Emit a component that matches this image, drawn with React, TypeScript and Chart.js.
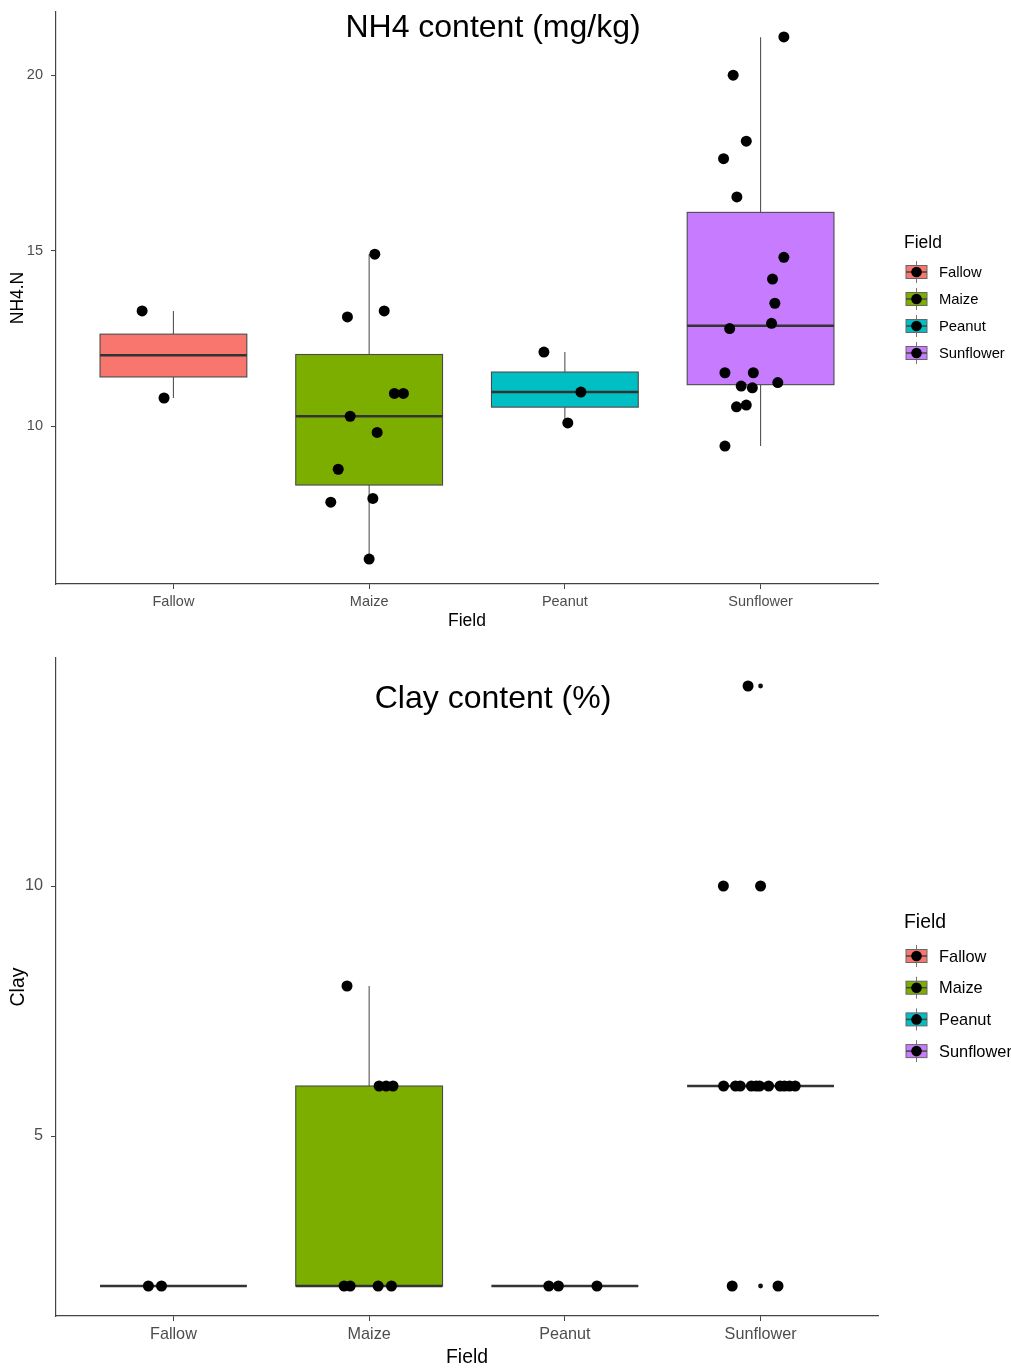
import React, { useEffect, useRef } from "react";
import { Chart, registerables } from "chart.js";

Chart.register(...registerables);
Chart.defaults.font.family = "'Liberation Sans', Arial, sans-serif";

// ---------- shared ----------
const categories = ["Fallow", "Maize", "Peanut", "Sunflower"];
const fillColors = ["#F8766D", "#7CAE00", "#00BFC4", "#C77CFF"];
const categoryPositions = [1, 2, 3, 4];
const legendTitle = "Field";

// ---------- NH4 chart ----------
const nh4Title = "NH4 content (mg/kg)";
const nh4YLabel = "NH4.N";
const nh4Ticks = [10, 15, 20];
const nh4Lower = [10.8, 6.21, 10.09, 9.43];
const nh4Q1 = [11.4, 8.32, 10.54, 11.18];
const nh4Median = [12.02, 10.28, 10.97, 12.86];
const nh4Q3 = [12.62, 12.04, 11.54, 16.09];
const nh4Upper = [13.28, 14.9, 12.11, 21.08];
const nh4Outliers: number[][] = [[], [], [], []];

const nh4Fallow = [13.28, 10.8];
const nh4FallowJitter = [-0.16, -0.048];
const nh4Maize = [14.9, 13.11, 13.28, 10.93, 10.93, 10.28, 9.82, 8.77, 7.83, 7.94, 6.21];
const nh4MaizeJitter = [0.029, -0.111, 0.077, 0.129, 0.175, -0.097, 0.041, -0.158, -0.196, 0.019, 0.0];
const nh4Peanut = [12.11, 10.97, 10.09];
const nh4PeanutJitter = [-0.107, 0.082, 0.015];
const nh4Sunflower = [21.09, 20.0, 18.12, 17.62, 16.53, 14.81, 14.19, 13.5, 12.93, 12.78, 11.52, 11.52, 11.24, 11.14, 11.09, 10.55, 10.6, 9.43];
const nh4SunflowerJitter = [0.119, -0.14, -0.073, -0.189, -0.121, 0.119, 0.061, 0.073, 0.056, -0.158, -0.182, -0.037, 0.088, -0.099, -0.042, -0.123, -0.073, -0.182];

// ---------- Clay chart ----------
const clayTitle = "Clay content (%)";
const clayYLabel = "Clay";
const clayTicks = [5, 10];
const clayLower = [2, 2, 2, 6];
const clayQ1 = [2, 2, 2, 6];
const clayMedian = [2, 2, 2, 6];
const clayQ3 = [2, 6, 2, 6];
const clayUpper = [2, 8, 2, 6];
const clayOutliers: number[][] = [[], [], [], [14, 10, 2]];

const clayFallow = [2, 2];
const clayFallowJitter = [-0.128, -0.061];
const clayMaize = [8, 6, 6, 6, 2, 2, 2, 2];
const clayMaizeJitter = [-0.113, 0.051, 0.087, 0.122, -0.128, -0.097, 0.046, 0.114];
const clayPeanut = [2, 2, 2];
const clayPeanutJitter = [-0.082, -0.033, 0.164];
const claySunflower = [14, 10, 10, 6, 6, 6, 6, 6, 6, 6, 6, 6, 6, 6, 2, 2];
const claySunflowerJitter = [-0.064, -0.19, 0.0, -0.189, -0.128, -0.104, -0.047, -0.022, -0.005, 0.041, 0.1, 0.122, 0.148, 0.177, -0.145, 0.089];

// ---------- helpers ----------
const BOX_HALF = 0.375;

type Stats = { lower: number[]; q1: number[]; median: number[]; q3: number[]; upper: number[] };

function jitterPoints(values: number[][], offsets: number[][]) {
  const pts: { x: number; y: number }[] = [];
  values.forEach((vals, i) => {
    vals.forEach((v, j) => pts.push({ x: categoryPositions[i] + offsets[i][j], y: v }));
  });
  return pts;
}

function outlierPoints(outs: number[][]) {
  const pts: { x: number; y: number }[] = [];
  outs.forEach((vals, i) => vals.forEach((v) => pts.push({ x: categoryPositions[i], y: v })));
  return pts;
}

function makeBoxPlugin(stats: Stats) {
  return {
    id: "boxes",
    beforeDatasetsDraw(chart: any) {
      const { ctx } = chart;
      const x = chart.scales.x;
      const y = chart.scales.y;
      ctx.save();
      stats.q1.forEach((_, i) => {
        const c = categoryPositions[i];
        const xl = x.getPixelForValue(c - BOX_HALF);
        const xr = x.getPixelForValue(c + BOX_HALF);
        const xc = x.getPixelForValue(c);
        const yLo = y.getPixelForValue(stats.lower[i]);
        const yQ1 = y.getPixelForValue(stats.q1[i]);
        const yMed = y.getPixelForValue(stats.median[i]);
        const yQ3 = y.getPixelForValue(stats.q3[i]);
        const yHi = y.getPixelForValue(stats.upper[i]);
        // whiskers
        ctx.strokeStyle = "#555555";
        ctx.lineWidth = 1.1;
        ctx.beginPath();
        ctx.moveTo(xc, yHi);
        ctx.lineTo(xc, yQ3);
        ctx.moveTo(xc, yQ1);
        ctx.lineTo(xc, yLo);
        ctx.stroke();
        // box
        ctx.fillStyle = fillColors[i];
        ctx.fillRect(xl, yQ3, xr - xl, yQ1 - yQ3);
        ctx.strokeStyle = "#4a4a4a";
        ctx.lineWidth = 1.1;
        ctx.strokeRect(xl, yQ3, xr - xl, yQ1 - yQ3);
        // median
        ctx.strokeStyle = "#333333";
        ctx.lineWidth = 2.6;
        ctx.beginPath();
        ctx.moveTo(xl, yMed);
        ctx.lineTo(xr, yMed);
        ctx.stroke();
      });
      ctx.restore();
    },
  };
}

function makeTitlePlugin(text: string, xVal: number, yVal: number, size: number) {
  return {
    id: "annotTitle",
    afterDatasetsDraw(chart: any) {
      const { ctx } = chart;
      const px = chart.scales.x.getPixelForValue(xVal);
      const py = chart.scales.y.getPixelForValue(yVal);
      ctx.save();
      ctx.font = `${size}px 'Liberation Sans', Arial, sans-serif`;
      ctx.fillStyle = "#000000";
      ctx.textAlign = "center";
      ctx.textBaseline = "middle";
      ctx.fillText(text, px, py);
      ctx.restore();
    },
  };
}

function makeLegendPlugin(opts: { titleY: number; firstRow: number; step: number; titleSize: number; textSize: number }) {
  return {
    id: "boxLegend",
    afterDraw(chart: any) {
      const { ctx, chartArea } = chart;
      const left = chartArea.right + 26;
      ctx.save();
      ctx.fillStyle = "#000000";
      ctx.textAlign = "left";
      ctx.textBaseline = "middle";
      ctx.font = `${opts.titleSize}px 'Liberation Sans', Arial, sans-serif`;
      ctx.fillText(legendTitle, left, opts.titleY);
      categories.forEach((name, i) => {
        const cy = opts.firstRow + i * opts.step;
        const kx = left + 2;
        const kw = 21;
        const kh = 13;
        const kc = kx + kw / 2;
        // whisker
        ctx.strokeStyle = "#777777";
        ctx.lineWidth = 1;
        ctx.beginPath();
        ctx.moveTo(kc, cy - 11);
        ctx.lineTo(kc, cy + 11);
        ctx.stroke();
        // box
        ctx.fillStyle = fillColors[i];
        ctx.fillRect(kx, cy - kh / 2, kw, kh);
        ctx.strokeStyle = "#666666";
        ctx.strokeRect(kx, cy - kh / 2, kw, kh);
        ctx.strokeStyle = "#444444";
        ctx.lineWidth = 1.5;
        ctx.beginPath();
        ctx.moveTo(kx, cy);
        ctx.lineTo(kx + kw, cy);
        ctx.stroke();
        // dot
        ctx.fillStyle = "#000000";
        ctx.beginPath();
        ctx.arc(kc, cy, 5.3, 0, Math.PI * 2);
        ctx.fill();
        // label
        ctx.font = `${opts.textSize}px 'Liberation Sans', Arial, sans-serif`;
        ctx.fillText(name, left + 35, cy + 1);
      });
      ctx.restore();
    },
  };
}

type PanelCfg = {
  width: number;
  height: number;
  padTop: number;
  padRight: number;
  yWidth: number;
  xHeight: number;
  yMin: number;
  yMax: number;
  yTicks: number[];
  yLabel: string;
  stats: Stats;
  values: number[][];
  offsets: number[][];
  outliers: number[][];
  title: string;
  titleX: number;
  titleY: number;
  tickSize: number;
  axisTitleSize: number;
  yTitlePad: number;
  xTitlePad: number;
  legend: { titleY: number; firstRow: number; step: number; titleSize: number; textSize: number };
};

function buildConfig(p: PanelCfg): any {
  return {
    type: "scatter",
    data: {
      datasets: [
        {
          label: "points",
          data: jitterPoints(p.values, p.offsets),
          pointRadius: 5.5,
          pointHoverRadius: 5.5,
          backgroundColor: "#000000",
          borderWidth: 0,
          order: 1,
        },
        {
          label: "outliers",
          data: outlierPoints(p.outliers),
          pointRadius: 2.4,
          pointHoverRadius: 2.4,
          backgroundColor: "#111111",
          borderWidth: 0,
          order: 2,
        },
      ],
    },
    options: {
      responsive: false,
      animation: false,
      devicePixelRatio: 1,
      events: [],
      layout: { padding: { top: p.padTop, right: p.padRight, left: 0, bottom: 0 } },
      plugins: { legend: { display: false }, tooltip: { enabled: false } },
      scales: {
        x: {
          type: "linear",
          position: "bottom",
          min: 0.4,
          max: 4.6,
          afterBuildTicks: (s: any) => {
            s.ticks = categoryPositions.map((v) => ({ value: v }));
          },
          afterFit: (s: any) => {
            s.height = p.xHeight;
            s.paddingLeft = 0;
            s.paddingRight = 0;
          },
          ticks: {
            autoSkip: false,
            maxRotation: 0,
            padding: 4,
            color: "#4d4d4d",
            font: { size: p.tickSize },
            callback: (v: any) => categories[Math.round(Number(v)) - 1] ?? "",
          },
          grid: { display: true, drawOnChartArea: false, drawTicks: true, tickLength: 5, color: "#444444", lineWidth: 1 },
          border: { display: true, color: "#444444", width: 1.2 },
          title: {
            display: true,
            text: "Field",
            color: "#000000",
            font: { size: p.axisTitleSize },
            padding: { top: 0, bottom: p.xTitlePad },
          },
        },
        y: {
          type: "linear",
          position: "left",
          min: p.yMin,
          max: p.yMax,
          afterBuildTicks: (s: any) => {
            s.ticks = p.yTicks.map((v) => ({ value: v }));
          },
          afterFit: (s: any) => {
            s.width = p.yWidth;
            s.paddingTop = 0;
            s.paddingBottom = 0;
          },
          ticks: {
            padding: 8,
            color: "#4d4d4d",
            font: { size: p.tickSize },
            callback: (v: any) => String(v),
          },
          grid: { display: true, drawOnChartArea: false, drawTicks: true, tickLength: 5, color: "#444444", lineWidth: 1 },
          border: { display: true, color: "#444444", width: 1.2 },
          title: {
            display: true,
            text: p.yLabel,
            color: "#000000",
            font: { size: p.axisTitleSize },
            padding: { top: p.yTitlePad, bottom: 0 },
          },
        },
      },
    },
    plugins: [
      makeBoxPlugin(p.stats),
      makeTitlePlugin(p.title, p.titleX, p.titleY, 32),
      makeLegendPlugin(p.legend),
    ],
  };
}

const nh4Panel: PanelCfg = {
  width: 1011,
  height: 640,
  padTop: 12,
  padRight: 133,
  yWidth: 56,
  xHeight: 56,
  yMin: 5.5,
  yMax: 21.8,
  yTicks: nh4Ticks,
  yLabel: nh4YLabel,
  stats: { lower: nh4Lower, q1: nh4Q1, median: nh4Median, q3: nh4Q3, upper: nh4Upper },
  values: [nh4Fallow, nh4Maize, nh4Peanut, nh4Sunflower],
  offsets: [nh4FallowJitter, nh4MaizeJitter, nh4PeanutJitter, nh4SunflowerJitter],
  outliers: nh4Outliers,
  title: nh4Title,
  titleX: 2.633,
  titleY: 21.35,
  tickSize: 14.5,
  axisTitleSize: 17.5,
  yTitlePad: 7.8,
  xTitlePad: 8,
  legend: { titleY: 243, firstRow: 272, step: 27, titleSize: 17.5, textSize: 14.8 },
};

const clayPanel: PanelCfg = {
  width: 1011,
  height: 729,
  padTop: 18,
  padRight: 133,
  yWidth: 56,
  xHeight: 53,
  yMin: 1.4,
  yMax: 14.56,
  yTicks: clayTicks,
  yLabel: clayYLabel,
  stats: { lower: clayLower, q1: clayQ1, median: clayMedian, q3: clayQ3, upper: clayUpper },
  values: [clayFallow, clayMaize, clayPeanut, claySunflower],
  offsets: [clayFallowJitter, clayMaizeJitter, clayPeanutJitter, claySunflowerJitter],
  outliers: clayOutliers,
  title: clayTitle,
  titleX: 2.633,
  titleY: 13.74,
  tickSize: 16.2,
  axisTitleSize: 19.4,
  yTitlePad: 6.6,
  xTitlePad: 0,
  legend: { titleY: 282.5, firstRow: 316, step: 31.7, titleSize: 19.4, textSize: 16.4 },
};

function Panel({ cfg, top }: { cfg: PanelCfg; top: number }) {
  const ref = useRef<HTMLCanvasElement>(null);
  useEffect(() => {
    if (!ref.current) return;
    const chart = new Chart(ref.current, buildConfig(cfg));
    return () => chart.destroy();
  }, [cfg]);
  return (
    <canvas
      ref={ref}
      width={cfg.width}
      height={cfg.height}
      style={{ position: "absolute", left: 0, top, width: cfg.width, height: cfg.height }}
    />
  );
}

export default function App() {
  return (
    <div style={{ position: "absolute", left: 0, top: 0, width: 1011, height: 1369, background: "#ffffff" }}>
      <Panel cfg={nh4Panel} top={0} />
      <Panel cfg={clayPanel} top={640} />
    </div>
  );
}
